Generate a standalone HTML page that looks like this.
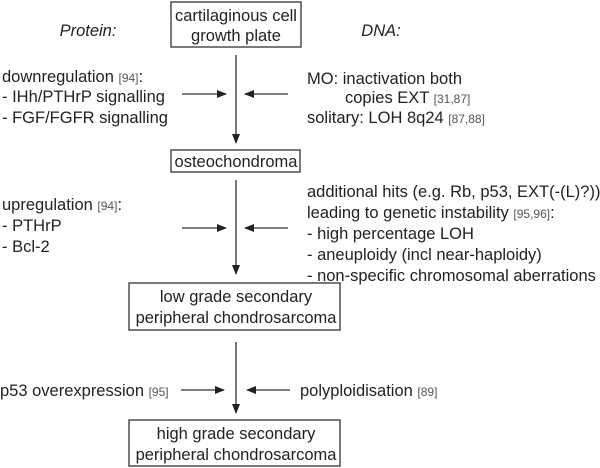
<!DOCTYPE html>
<html><head><meta charset="utf-8"><style>
html,body{margin:0;padding:0;background:#fff;}
svg{display:block;font-family:"Liberation Sans",Arial,sans-serif;}
text{font-size:16.5px;fill:#222;}
.r{font-size:12px;fill:#555;}
</style></head><body>
<svg width="600" height="468" viewBox="0 0 600 468" xmlns="http://www.w3.org/2000/svg">
<defs><marker id="a" markerWidth="10" markerHeight="8" refX="9" refY="4" orient="auto" markerUnits="userSpaceOnUse"><path d="M0,0 L10,4 L0,8 Z" fill="#222"/></marker></defs>
<g stroke="#333" stroke-width="1.3" fill="none">
<rect x="171" y="2" width="130" height="45"/>
<rect x="171" y="150" width="129" height="22"/>
<rect x="129" y="283" width="211" height="47"/>
<rect x="129" y="420" width="211" height="46"/>
<line x1="236" y1="55" x2="236" y2="143" marker-end="url(#a)"/>
<line x1="236" y1="180" x2="236" y2="274" marker-end="url(#a)"/>
<line x1="236" y1="342" x2="236" y2="413" marker-end="url(#a)"/>
<line x1="182" y1="94" x2="226" y2="94" marker-end="url(#a)"/>
<line x1="288" y1="94" x2="245" y2="94" marker-end="url(#a)"/>
<line x1="182" y1="228" x2="226" y2="228" marker-end="url(#a)"/>
<line x1="288" y1="228" x2="245" y2="228" marker-end="url(#a)"/>
<line x1="181" y1="390" x2="224" y2="390" marker-end="url(#a)"/>
<line x1="290" y1="390" x2="247" y2="390" marker-end="url(#a)"/>
</g>
<text x="88" y="36" text-anchor="middle" font-style="italic">Protein:</text>
<text x="381" y="36" text-anchor="middle" font-style="italic">DNA:</text>
<text x="236" y="21" text-anchor="middle">cartilaginous cell</text>
<text x="236" y="41" text-anchor="middle">growth plate</text>
<text x="236" y="167" text-anchor="middle">osteochondroma</text>
<text x="236" y="302" text-anchor="middle">low grade secondary</text>
<text x="236" y="323" text-anchor="middle">peripheral chondrosarcoma</text>
<text x="236" y="439" text-anchor="middle">high grade secondary</text>
<text x="236" y="460" text-anchor="middle">peripheral chondrosarcoma</text>
<text x="2" y="82">downregulation <tspan class="r">[94]</tspan>:</text>
<text x="2" y="102">- IHh/PTHrP signalling</text>
<text x="2" y="123">- FGF/FGFR signalling</text>
<text x="307" y="84">MO: inactivation both</text>
<text x="345" y="103">copies EXT <tspan class="r">[31,87]</tspan></text>
<text x="307" y="123">solitary: LOH 8q24 <tspan class="r">[87,88]</tspan></text>
<text x="2" y="210">upregulation <tspan class="r">[94]</tspan>:</text>
<text x="2" y="231">- PTHrP</text>
<text x="2" y="252">- Bcl-2</text>
<text x="307" y="197">additional hits (e.g. Rb, p53, EXT(-(L)?))</text>
<text x="307" y="218">leading to genetic instability <tspan class="r">[95,96]</tspan>:</text>
<text x="307" y="239">- high percentage LOH</text>
<text x="307" y="260">- aneuploidy (incl near-haploidy)</text>
<text x="307" y="281">- non-specific chromosomal aberrations</text>
<text x="0" y="396">p53 overexpression <tspan class="r">[95]</tspan></text>
<text x="300" y="396">polyploidisation <tspan class="r">[89]</tspan></text>
</svg>
</body></html>
